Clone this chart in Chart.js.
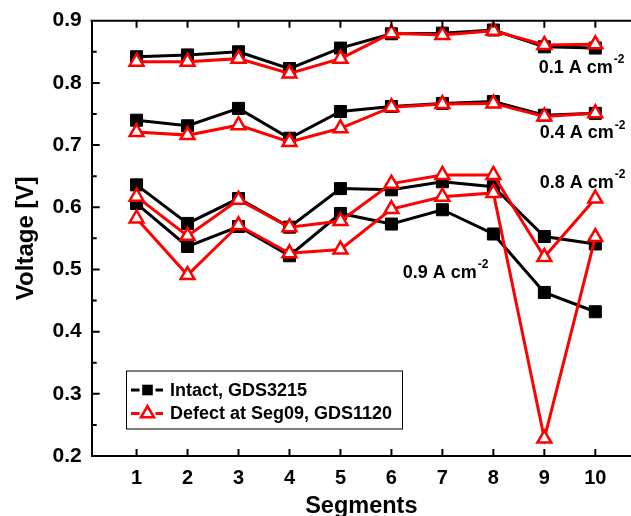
<!DOCTYPE html>
<html>
<head>
<meta charset="utf-8">
<script src="https://cdn.jsdelivr.net/npm/chart.js@4/dist/chart.umd.min.js"></script>
<style>
  html, body { margin: 0; padding: 0; background: #fff; overflow: hidden; }
  canvas { display: block; }
</style>
</head>
<body>
<canvas id="voltage" width="631" height="516"></canvas>
<script>
const segments = [1, 2, 3, 4, 5, 6, 7, 8, 9, 10];
const voltageTicks = [0.2, 0.3, 0.4, 0.5, 0.6, 0.7, 0.8, 0.9];
const seriesNames = ["Intact, GDS3215", "Defect at Seg09, GDS1120"];
const densities = ["0.1", "0.4", "0.8", "0.9"];

// cell voltage per segment, intact stack vs. stack with defect at segment 9
const intact01 = [0.842, 0.845, 0.850, 0.823, 0.856, 0.879, 0.880, 0.885, 0.858, 0.856];
const defect01 = [0.834, 0.834, 0.839, 0.815, 0.839, 0.880, 0.877, 0.884, 0.861, 0.862];
const intact04 = [0.740, 0.731, 0.759, 0.711, 0.754, 0.762, 0.767, 0.770, 0.748, 0.751];
const defect04 = [0.721, 0.716, 0.732, 0.705, 0.727, 0.761, 0.766, 0.767, 0.746, 0.751];
const intact08 = [0.636, 0.574, 0.614, 0.568, 0.630, 0.628, 0.641, 0.633, 0.553, 0.541];
const defect08 = [0.617, 0.554, 0.612, 0.568, 0.578, 0.638, 0.652, 0.652, 0.520, 0.614];
const intact09 = [0.606, 0.537, 0.569, 0.522, 0.590, 0.573, 0.596, 0.557, 0.463, 0.432];
const defect09 = [0.582, 0.491, 0.571, 0.526, 0.532, 0.597, 0.617, 0.623, 0.228, 0.552];

const FONT = "'Liberation Sans', Arial, sans-serif";

const points = (vals) => vals.map((v, i) => ({ x: segments[i], y: v }));

const intactStyle = {
  borderColor: "#000",
  backgroundColor: "#000",
  borderWidth: 3,
  pointStyle: "rect",
  pointRadius: 8.5,
  pointBackgroundColor: "#000",
  pointBorderColor: "#000",
  pointBorderWidth: 1,
  order: 2,
};
const defectStyle = {
  borderColor: "#ff0000",
  backgroundColor: "#fff",
  borderWidth: 3,
  pointStyle: "triangle",
  pointRadius: 8,
  pointBackgroundColor: "#fff",
  pointBorderColor: "#ff0000",
  pointBorderWidth: 2.5,
  order: 1,
};

const pairs = [
  [intact01, defect01],
  [intact04, defect04],
  [intact08, defect08],
  [intact09, defect09],
];
const datasets = [];
pairs.forEach(([a, b], i) => {
  datasets.push({ label: seriesNames[0] + " " + densities[i], data: points(a), ...intactStyle });
  datasets.push({ label: seriesNames[1] + " " + densities[i], data: points(b), ...defectStyle });
});

function marker(ctx, ds, x, y) {
  const r = ds.pointRadius;
  ctx.save();
  if (ds.pointStyle === "rect") {
    const h = r * Math.SQRT1_2;
    ctx.fillStyle = ds.pointBackgroundColor;
    ctx.fillRect(x - h, y - h, 2 * h, 2 * h);
  } else {
    ctx.beginPath();
    ctx.moveTo(x, y - r);
    ctx.lineTo(x + r * Math.sin(2 * Math.PI / 3), y + r / 2);
    ctx.lineTo(x - r * Math.sin(2 * Math.PI / 3), y + r / 2);
    ctx.closePath();
    ctx.fillStyle = ds.pointBackgroundColor;
    ctx.fill();
    ctx.lineWidth = ds.pointBorderWidth;
    ctx.strokeStyle = ds.pointBorderColor;
    ctx.stroke();
  }
  ctx.restore();
}

// top frame line and inward ticks on all drawn axes
const frameTicks = {
  id: "frameTicks",
  afterDraw(chart) {
    const { ctx, chartArea: a, scales: { x, y } } = chart;
    ctx.save();
    ctx.strokeStyle = "#000";
    ctx.lineWidth = 2;
    ctx.beginPath();
    ctx.moveTo(a.left - 1, a.top);
    ctx.lineTo(a.right, a.top);
    segments.forEach((s) => {
      const px = x.getPixelForValue(s);
      ctx.moveTo(px, a.bottom);
      ctx.lineTo(px, a.bottom - 7);
      ctx.moveTo(px, a.top);
      ctx.lineTo(px, a.top + 7);
    });
    voltageTicks.forEach((v, i) => {
      const py = y.getPixelForValue(v);
      ctx.moveTo(a.left, py);
      ctx.lineTo(a.left + 8, py);
      if (i > 0) {
        const pm = y.getPixelForValue(v - 0.05);
        ctx.moveTo(a.left, pm);
        ctx.lineTo(a.left + 5, pm);
      }
    });
    ctx.stroke();
    ctx.restore();
  },
};

// current density labels with superscript unit
const densityLabels = {
  id: "densityLabels",
  afterDraw(chart) {
    const { ctx, scales: { x, y } } = chart;
    const spots = [[8.89, 0.824], [8.91, 0.719], [8.91, 0.639], [6.22, 0.494]];
    ctx.save();
    ctx.fillStyle = "#000";
    ctx.textBaseline = "middle";
    ctx.textAlign = "left";
    densities.forEach((d, i) => {
      const px = x.getPixelForValue(spots[i][0]);
      const py = y.getPixelForValue(spots[i][1]);
      ctx.font = "bold 18px " + FONT;
      const txt = d + " A cm";
      ctx.fillText(txt, px, py);
      const w = ctx.measureText(txt).width;
      ctx.font = "bold 12px " + FONT;
      ctx.fillText("-2", px + w + 1, py - 8);
    });
    ctx.restore();
  },
};

// boxed legend inside the plot
const boxLegend = {
  id: "boxLegend",
  afterDraw(chart) {
    const { ctx } = chart;
    const ds = chart.data.datasets;
    const left = 126, top = 370.5, w = 276, h = 58;
    ctx.save();
    ctx.strokeStyle = "#000";
    ctx.lineWidth = 1;
    ctx.fillStyle = "#fff";
    ctx.fillRect(left, top, w, h);
    ctx.strokeRect(left + 0.5, top + 0.5, w, h);
    [ds[0], ds[1]].forEach((d, i) => {
      const cy = top + 19.5 + i * 23.5;
      const cx = left + 21.5;
      ctx.strokeStyle = d.borderColor;
      ctx.lineWidth = 3;
      ctx.beginPath();
      ctx.moveTo(left + 5, cy);
      ctx.lineTo(cx - 8, cy);
      ctx.moveTo(cx + 8, cy);
      ctx.lineTo(left + 37, cy);
      ctx.stroke();
      marker(ctx, { ...d, pointRadius: 7.5 }, cx, cy);
      ctx.fillStyle = "#000";
      ctx.font = "bold 18px " + FONT;
      ctx.textBaseline = "middle";
      ctx.textAlign = "left";
      ctx.fillText(seriesNames[i], left + 44, cy + 1);
    });
    ctx.restore();
  },
};

new Chart(document.getElementById("voltage"), {
  type: "line",
  data: { datasets },
  options: {
    responsive: false,
    animation: false,
    events: [],
    layout: { autoPadding: false, padding: { top: 20.7, right: 0, bottom: 0, left: 0 } },
    plugins: { legend: { display: false }, tooltip: { enabled: false } },
    scales: {
      x: {
        type: "linear",
        position: "bottom",
        min: 0.12,
        max: 10.7,
        afterBuildTicks: (s) => { s.ticks = segments.map((v) => ({ value: v })); },
        afterFit: (s) => { s.height = 60; s.paddingLeft = 0; s.paddingRight = 0; },
        grid: { display: false, drawTicks: false },
        border: { display: true, color: "#000", width: 2 },
        ticks: {
          color: "#000",
          padding: 10,
          maxRotation: 0,
          font: { family: FONT, size: 20, weight: "bold" },
        },
        title: {
          display: true,
          text: "Segments",
          color: "#000",
          padding: { top: 0, bottom: 0 },
          font: { family: FONT, size: 23.5, weight: "bold", lineHeight: 0.8 },
        },
      },
      y: {
        min: 0.2,
        max: 0.9,
        afterBuildTicks: (s) => { s.ticks = voltageTicks.map((v) => ({ value: v })); },
        afterFit: (s) => { s.width = 91.7; s.paddingTop = 0; s.paddingBottom = 0; },
        grid: { display: false, drawTicks: false },
        border: { display: true, color: "#000", width: 2 },
        ticks: {
          color: "#000",
          padding: 10,
          callback: (v) => v.toFixed(1),
          font: { family: FONT, size: 21, weight: "bold" },
        },
        title: {
          display: true,
          text: "Voltage [V]",
          color: "#000",
          padding: { top: 14, bottom: 0 },
          font: { family: FONT, size: 24, weight: "bold", lineHeight: 1 },
        },
      },
    },
  },
  plugins: [frameTicks, densityLabels, boxLegend],
});
</script>
</body>
</html>
